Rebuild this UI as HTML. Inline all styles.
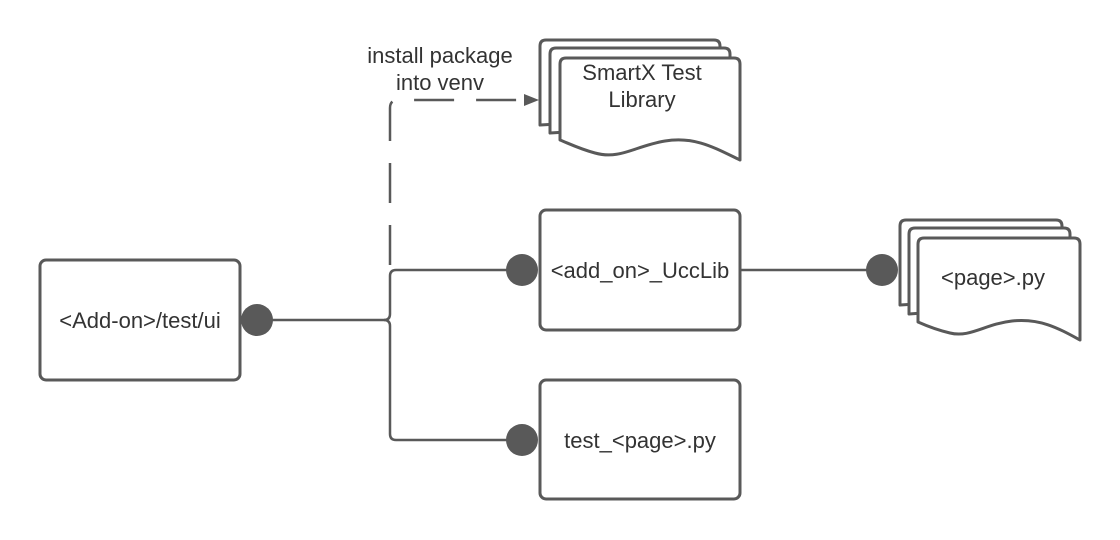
<!DOCTYPE html>
<html><head><meta charset="utf-8"><style>
html,body{margin:0;padding:0;background:#fff;}
svg{display:block;}
text{font-family:"Liberation Sans",sans-serif;fill:#333;font-size:22px;text-anchor:middle;}
</style></head><body>
<svg width="1120" height="540" viewBox="0 0 1120 540" xmlns="http://www.w3.org/2000/svg">
<defs>
<marker id="ar" markerWidth="15" markerHeight="12" refX="14" refY="6" orient="auto" markerUnits="userSpaceOnUse">
<path d="M0,0 L15,6 L0,12 Z" fill="#595959"/></marker>
</defs>
<g fill="#fff" stroke="#595959" stroke-width="3" stroke-linejoin="round">
<path d="M540,46 Q540,40 546,40 L714,40 Q720,40 720,46 L720,115 L540,125 Z"/>
<path d="M550,54 Q550,48 556,48 L724,48 Q730,48 730,54 L730,122 L550,133 Z"/>
<path d="M560,64 Q560,58 566,58 L734,58 Q740,58 740,64 L740,160 C715,148 695,136 665,141 C635,146 620,160 595,153 C580,149 570,144 560,140 Z"/>
<path d="M900,226 Q900,220 906,220 L1056,220 Q1062,220 1062,226 L1062,295 L900,305 Z"/>
<path d="M909,234 Q909,228 915,228 L1064,228 Q1070,228 1070,234 L1070,302 L909,314 Z"/>
<path d="M918,244 Q918,238 924,238 L1074,238 Q1080,238 1080,244 L1080,340 C1058,328 1040,318 1012,321 C985,324 970,338 950,333 C937,330 927,326 918,322 Z"/>
<rect x="40" y="260" width="200" height="120" rx="6"/>
<rect x="540" y="210" width="200" height="120" rx="6"/>
<rect x="540" y="380" width="200" height="119" rx="6"/>
</g>
<g fill="none" stroke="#595959" stroke-width="2.5">
<path d="M272,320 L384,320 Q390,320 390,314 L390,276 Q390,270 396,270 L507,270"/>
<path d="M384,320 Q390,320 390,326 L390,434 Q390,440 396,440 L507,440"/>
<path d="M390,265 L390,108 Q390,100 398,100 L538,100" stroke-dasharray="40,22" marker-end="url(#ar)"/>
<path d="M740,270 L867,270"/>
</g>
<g fill="#595959">
<circle cx="257" cy="320" r="16"/>
<circle cx="522" cy="270" r="16"/>
<circle cx="522" cy="440" r="16"/>
<circle cx="882" cy="270" r="16"/>
</g>
<text x="440" y="63">install package</text>
<text x="440" y="90">into venv</text>
<text x="642" y="80">SmartX Test</text>
<text x="642" y="107">Library</text>
<text x="140" y="328">&lt;Add-on&gt;/test/ui</text>
<text x="640" y="278">&lt;add_on&gt;_UccLib</text>
<text x="640" y="448">test_&lt;page&gt;.py</text>
<text x="993" y="285">&lt;page&gt;.py</text>
</svg>
</body></html>
